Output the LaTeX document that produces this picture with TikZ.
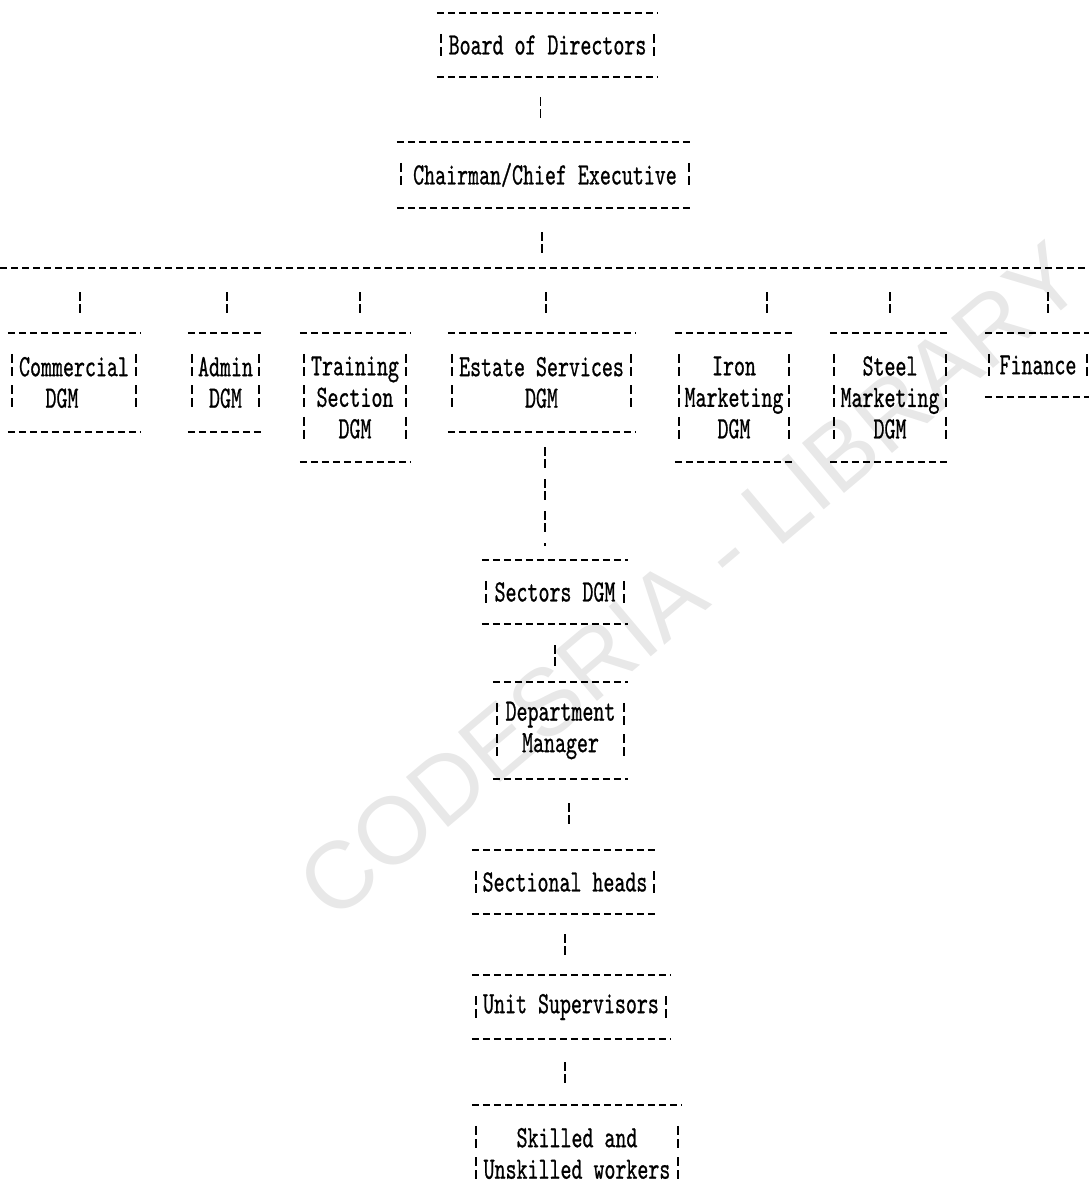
\documentclass[tikz,border=0pt]{standalone}
\usepackage{fontspec}
\setmonofont{lmmono10-regular.otf}[FakeStretch=0.675,FakeBold=0.7]
\newfontfamily\wmfont{Liberation Sans}
\usetikzlibrary{positioning}
\usetikzlibrary{calc}
\usetikzlibrary{decorations.text}

\tikzset{
  orgbox/.style={font=\ttfamily\fontsize{31}{31.5}\selectfont, align=center, inner sep=0pt},
  typerule/.style={line width=1.8pt, dash pattern=on 7pt off 4pt},
  link/.style={line width=1.6pt, dash pattern=on 9pt off 3pt on 9pt off 11pt},
  sidebar/.style={line width=1.5pt, dash pattern=on 9pt off 4pt on 9pt off 9.5pt}
}
\newcommand{\wmstyle}{\wmfont\fontsize{95}{95}\selectfont\color{black!9}}

\begin{document}
\begin{tikzpicture}[x=1pt, y=-1pt]
    \useasboundingbox (0,0) rectangle (1089,1197);
    \clip (0,0) rectangle (1089,1197);
    \path[decorate, decoration={text along path, text align=center,
        text={|\wmstyle|CODESRIA - LIBRARY}}] (318,937) -- (1104,275);

    \node[orgbox, minimum width=221pt, minimum height=64pt] (board) at (547.5,45) {Board of Directors};
    \node[orgbox, minimum width=296pt, minimum height=66pt] (chair) at (545,175) {Chairman/Chief Executive};

    \coordinate (busL) at (0,268);
    \coordinate (busR) at (1085,268);

    \node[orgbox, minimum width=132pt, minimum height=99pt] (com) at (74,382.5) {Commercial\\DGM\hspace*{24pt}};
    \node[orgbox, minimum width=75pt, minimum height=99pt] (adm) at (225.5,382.5) {Admin\\DGM};
    \node[orgbox, minimum width=110pt, minimum height=129pt] (trn) at (355,397.5) {Training\\Section\\DGM};
    \node[orgbox, minimum width=187pt, minimum height=99pt] (est) at (541.5,382.5) {Estate Services\\DGM};
    \node[orgbox, minimum width=118pt, minimum height=129pt] (iron) at (734,397.5) {Iron\\Marketing\\DGM};
    \node[orgbox, minimum width=120pt, minimum height=129pt] (steel) at (890,397.5) {Steel\\Marketing\\DGM};
    \node[orgbox, minimum width=106pt, minimum height=64pt] (fin) at (1038,365) {Finance};

    \node[orgbox, minimum width=146pt, minimum height=64pt] (sect) at (555,592) {Sectors DGM};
    \node[orgbox, minimum width=135pt, minimum height=97pt] (dept) at (560.5,730.5) {Department\\Manager};
    \node[orgbox, minimum width=186pt, minimum height=64pt] (head) at (565,882) {Sectional heads};
    \node[orgbox, minimum width=198pt, minimum height=64pt] (unit) at (571,1007) {Unit Supervisors};
    \node[orgbox, minimum width=210pt, minimum height=97pt] (work) at (577,1153.5) {Skilled and\\Unskilled workers};

    % typed box edges
    \foreach \n in {board,chair,com,adm,trn,est,iron,steel,fin,sect,dept,head,unit,work} {
        \draw[typerule] (\n.north west) -- (\n.north east);
        \draw[typerule] (\n.south west) -- (\n.south east);
        \draw[sidebar] ([xshift=4pt,yshift=-21pt]\n.north west) -- ([xshift=4pt,yshift=21pt]\n.south west);
        \draw[sidebar] ([xshift=-4pt,yshift=-21pt]\n.north east) -- ([xshift=-4pt,yshift=21pt]\n.south east);
    }

    \draw[typerule] (busL) -- (busR);

    \draw[link, shorten <=20pt, shorten >=24pt] ([xshift=-7pt]board.south) -- ([xshift=-7pt]board.south |- chair.north);
    \draw[link, shorten <=24pt, shorten >=15pt] ([xshift=-3pt]chair.south) -- ([xshift=-3pt]chair.south |- busL);
    \foreach \n/\dx in {com/6,adm/1.5,trn/5,est/4.5,iron/33,steel/0,fin/10}
        \draw[link, shorten <=24pt, shorten >=20pt] ([xshift=\dx pt]\n.north |- busL) -- ([xshift=\dx pt]\n.north);

    \draw[link, shorten <=15pt, shorten >=14pt] ([xshift=3.5pt]est.south) -- ([xshift=3.5pt]est.south |- sect.north);
    \draw[link, shorten <=21pt, shorten >=16pt] (sect.south) -- (sect.south |- dept.north);
    \draw[link, shorten <=24pt, shorten >=26pt] ([xshift=8.5pt]dept.south) -- ([xshift=8.5pt]dept.south |- head.north);
    \draw[link, shorten <=20pt, shorten >=20pt] (head.south) -- (head.south |- unit.north);
    \draw[link, shorten <=23pt, shorten >=22pt] ([xshift=-6pt]unit.south) -- ([xshift=-6pt]unit.south |- work.north);
\end{tikzpicture}
\end{document}
